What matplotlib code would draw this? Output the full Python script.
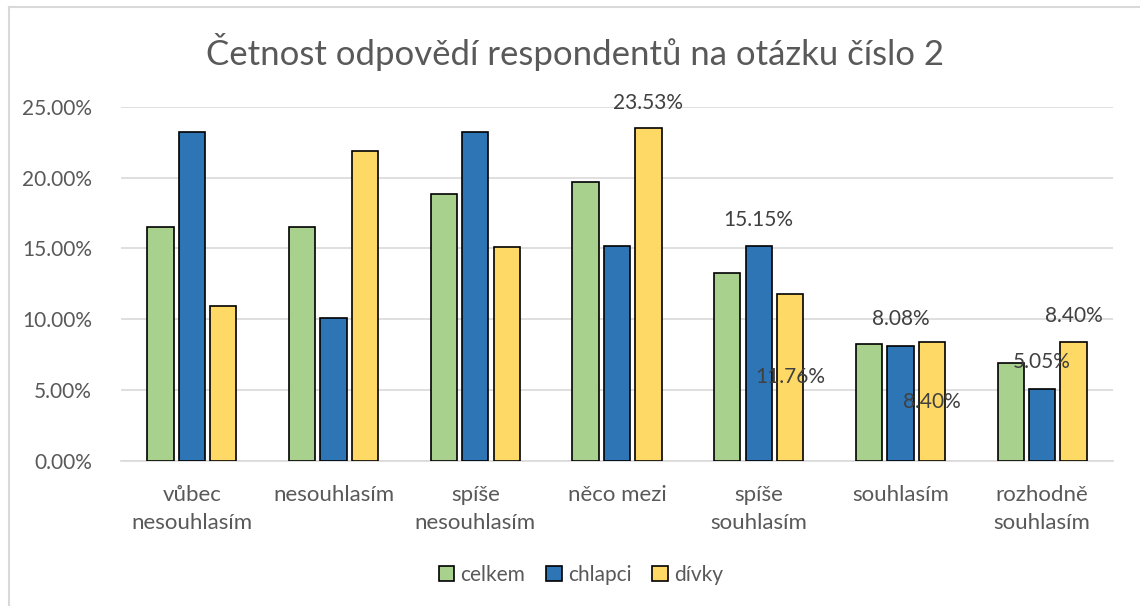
import matplotlib
matplotlib.use("Agg")
import matplotlib.pyplot as plt
import numpy as np
from matplotlib.lines import Line2D
from matplotlib.patches import Patch

categories = ["vůbec\nnesouhlasím", "nesouhlasím", "spíše\nnesouhlasím", "něco mezi",
              "spíše\nsouhlasím", "souhlasím", "rozhodně\nsouhlasím"]
series_names = ["celkem", "chlapci", "dívky"]
celkem = [16.51, 16.51, 18.81, 19.72, 13.30, 8.26, 6.88]
chlapci = [23.23, 10.10, 23.23, 15.15, 15.15, 8.08, 5.05]
divky = [10.92, 21.85, 15.13, 23.53, 11.76, 8.40, 8.40]
yticks = [0, 5, 10, 15, 20, 25]
title = "Četnost odpovědí respondentů na otázku číslo 2"

colors = ["#A9D18E", "#2E75B6", "#FFD966"]
FONT = ["Lato", "DejaVu Sans"]
plt.rcParams["font.family"] = FONT

fig = plt.figure(figsize=(11.4, 6.06), dpi=100)
ax = fig.add_axes([121/1140, 1-461/606, (1113-121)/1140, (461-106.7)/606])

x = np.arange(len(categories))
width = 0.185
step = 0.222
data = [celkem, chlapci, divky]
for i, (vals, c) in enumerate(zip(data, colors)):
    ax.bar(x + (i-1)*step, vals, width, color=c, edgecolor="black", linewidth=1.2,
           zorder=3, label=series_names[i])

ax.set_xlim(-0.5, len(categories)-0.5)
ax.set_ylim(0, 25)
ax.set_yticks(yticks)
ax.set_yticklabels([f"{v:.2f}%" for v in yticks])
ax.set_xticks(x)
ax.set_xticklabels(categories, linespacing=1.5)
ax.tick_params(axis="both", length=0, colors="#595959")
ax.tick_params(axis="y", pad=21, labelsize=15)
ax.tick_params(axis="x", pad=17, labelsize=16)
ax.grid(axis="y", color="#D9D9D9", linewidth=1.2, zorder=0)
for s in ["top", "right", "left"]:
    ax.spines[s].set_visible(False)
ax.spines["bottom"].set_color("#D9D9D9")
ax.spines["bottom"].set_linewidth(1.2)

# data labels (series index, category index, pixel offset)
label_specs = [(2, 3, 25), (1, 4, 26), (2, 4, -83), (1, 5, 27), (2, 5, -60), (1, 6, 27), (2, 6, 26)]
for si, ci, off in label_specs:
    v = data[si][ci]
    ax.annotate(f"{v:.2f}%", (x[ci] + (si-1)*step, v), xytext=(0, off),
                textcoords="offset pixels", ha="center", va="center",
                fontsize=15, color="#404040", zorder=5)

fig.text(575/1140, 1-52/606, title, ha="center", va="center", fontsize=25,
         color="#595959")

handles = [Patch(facecolor=c, edgecolor="black", linewidth=1.2) for c in colors]
fig.legend(handles, series_names, loc="center", bbox_to_anchor=(581/1140, 1-575/606),
           ncol=3, frameon=False, fontsize=15, handlelength=0.75, handleheight=0.75,
           handletextpad=0.3, columnspacing=1.0, labelcolor="#595959")

fig.add_artist(Line2D([9/1140, 9/1140], [0, 1-7/606], color="#D9D9D9", linewidth=1.5,
                      transform=fig.transFigure))
fig.add_artist(Line2D([9/1140, 1], [1-7/606, 1-7/606], color="#D9D9D9", linewidth=1.5,
                      transform=fig.transFigure))

fig.savefig("out.png", dpi=100)
